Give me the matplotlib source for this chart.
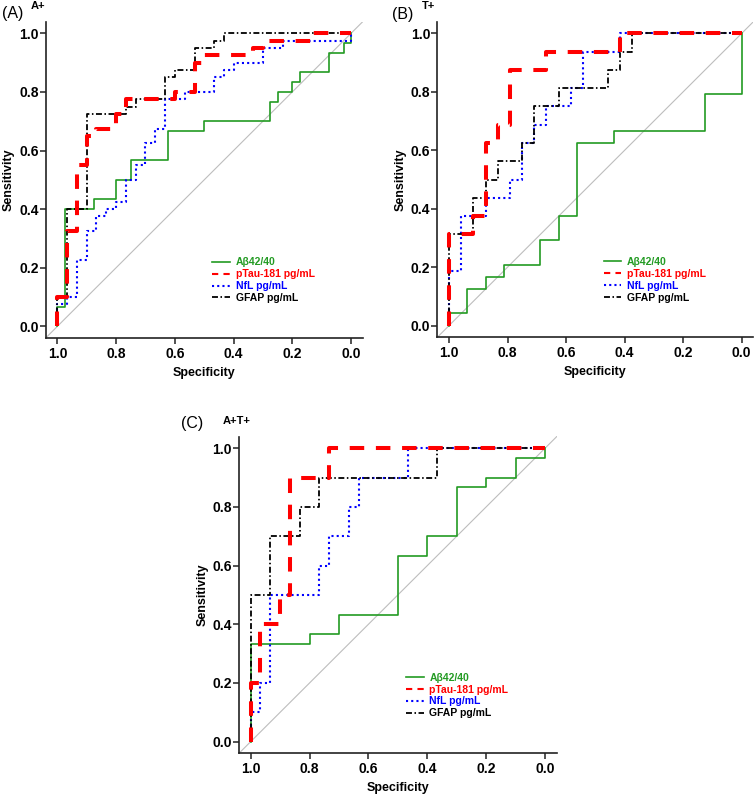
import matplotlib
matplotlib.use('Agg')
import matplotlib.pyplot as plt
from matplotlib.lines import Line2D

plt.rcParams['font.family'] = ['Liberation Sans', 'DejaVu Sans']

# ---------------- data ----------------
markers = ['Aβ42/40', 'pTau-181 pg/mL', 'NfL pg/mL', 'GFAP pg/mL']
tick_values = [0.0, 0.2, 0.4, 0.6, 0.8, 1.0]

# Panel A (A+)
A_abeta_spec = [1, 1, 0.975, 0.875, 0.8, 0.75, 0.625, 0.5, 0.275, 0.25, 0.2, 0.175, 0.075, 0.025, 0]
A_abeta_sens = [0, 0.067, 0.4, 0.433, 0.5, 0.567, 0.667, 0.7, 0.767, 0.8, 0.833, 0.867, 0.933, 0.967, 1]
A_ptau_spec = [1, 1, 0.967, 0.933, 0.9, 0.867, 0.8, 0.767, 0.6, 0.533, 0.5, 0.333, 0.3, 0.133, 0]
A_ptau_sens = [0, 0.1, 0.325, 0.55, 0.65, 0.675, 0.725, 0.775, 0.8, 0.9, 0.925, 0.95, 0.975, 1, 1]
A_nfl_spec = [1, 1, 0.967, 0.933, 0.9, 0.867, 0.833, 0.8, 0.767, 0.733, 0.7, 0.667, 0.633, 0.567,
              0.467, 0.433, 0.4, 0.3, 0.233, 0]
A_nfl_sens = [0, 0.075, 0.1, 0.225, 0.325, 0.375, 0.4, 0.425, 0.5, 0.55, 0.625, 0.675, 0.775, 0.8,
              0.85, 0.875, 0.9, 0.95, 0.975, 1]
A_gfap_spec = [1, 1, 0.967, 0.9, 0.767, 0.733, 0.633, 0.6, 0.533, 0.467, 0.433, 0]
A_gfap_sens = [0, 0.1, 0.4, 0.725, 0.75, 0.775, 0.85, 0.875, 0.95, 0.975, 1, 1]

# Panel B (T+)
B_abeta_spec = [1, 1, 0.9375, 0.875, 0.8125, 0.6875, 0.625, 0.5625, 0.4375, 0.125, 0]
B_abeta_sens = [0, 0.042, 0.125, 0.167, 0.208, 0.292, 0.375, 0.625, 0.667, 0.792, 1]
B_ptau_spec = [1, 1, 0.917, 0.875, 0.833, 0.792, 0.667, 0.417, 0]
B_ptau_sens = [0, 0.3125, 0.375, 0.625, 0.6875, 0.875, 0.9375, 1, 1]
B_nfl_spec = [1, 1, 0.958, 0.875, 0.792, 0.75, 0.708, 0.667, 0.583, 0.542, 0.417, 0]
B_nfl_sens = [0, 0.1875, 0.375, 0.4375, 0.5, 0.625, 0.6875, 0.75, 0.8125, 0.9375, 1, 1]
B_gfap_spec = [1, 1, 0.917, 0.875, 0.833, 0.75, 0.708, 0.625, 0.458, 0.417, 0.375, 0]
B_gfap_sens = [0, 0.3125, 0.4375, 0.5, 0.5625, 0.625, 0.75, 0.8125, 0.875, 0.9375, 1, 1]

# Panel C (A+T+)
C_abeta_spec = [1, 1, 0.8, 0.7, 0.5, 0.4, 0.3, 0.2, 0.1, 0]
C_abeta_sens = [0, 0.333, 0.367, 0.433, 0.633, 0.7, 0.867, 0.9, 0.967, 1]
C_ptau_spec = [1, 1, 0.967, 0.9, 0.867, 0.733, 0]
C_ptau_sens = [0, 0.2, 0.4, 0.5, 0.9, 1, 1]
C_nfl_spec = [1, 1, 0.967, 0.933, 0.767, 0.733, 0.667, 0.633, 0.467, 0]
C_nfl_sens = [0, 0.1, 0.2, 0.5, 0.6, 0.7, 0.8, 0.9, 1, 1]
C_gfap_spec = [1, 1, 0.933, 0.833, 0.767, 0.367, 0]
C_gfap_sens = [0, 0.5, 0.7, 0.8, 0.9, 1, 1]

panel_letters = ['(A)', '(B)', '(C)']
panel_groups = ['A+', 'T+', 'A+T+']

# ---------------- styles ----------------
colors = {'Aβ42/40': '#239b23', 'pTau-181 pg/mL': '#ff0000',
          'NfL pg/mL': '#0000ff', 'GFAP pg/mL': '#000000'}
plot_style = {
    'Aβ42/40': dict(lw=1.2, linestyle='-', zorder=3),
    'pTau-181 pg/mL': dict(lw=2.9, linestyle=(0, (3.6, 2.9)), dash_capstyle='butt', zorder=6),
    'NfL pg/mL': dict(lw=1.5, linestyle=(0, (1.0, 1.5)), dash_capstyle='butt', zorder=4),
    'GFAP pg/mL': dict(lw=1.3, linestyle=(0, (3.3, 1.4, 0.85, 1.4)), dash_capstyle='butt', zorder=5),
}
legend_style = {
    'Aβ42/40': dict(lw=1.2, linestyle='-'),
    'pTau-181 pg/mL': dict(lw=1.5, linestyle=(0, (3.0, 2.5)), dash_capstyle='butt'),
    'NfL pg/mL': dict(lw=1.5, linestyle=(0, (1.0, 1.5)), dash_capstyle='butt'),
    'GFAP pg/mL': dict(lw=1.3, linestyle=(0, (3.3, 1.4, 0.85, 1.4)), dash_capstyle='butt'),
}
draw_order = ['Aβ42/40', 'NfL pg/mL', 'GFAP pg/mL', 'pTau-181 pg/mL']

panels = [
    {'Aβ42/40': (A_abeta_spec, A_abeta_sens), 'pTau-181 pg/mL': (A_ptau_spec, A_ptau_sens),
     'NfL pg/mL': (A_nfl_spec, A_nfl_sens), 'GFAP pg/mL': (A_gfap_spec, A_gfap_sens)},
    {'Aβ42/40': (B_abeta_spec, B_abeta_sens), 'pTau-181 pg/mL': (B_ptau_spec, B_ptau_sens),
     'NfL pg/mL': (B_nfl_spec, B_nfl_sens), 'GFAP pg/mL': (B_gfap_spec, B_gfap_sens)},
    {'Aβ42/40': (C_abeta_spec, C_abeta_sens), 'pTau-181 pg/mL': (C_ptau_spec, C_ptau_sens),
     'NfL pg/mL': (C_nfl_spec, C_nfl_sens), 'GFAP pg/mL': (C_gfap_spec, C_gfap_sens)},
]

W, H = 755, 798
fig = plt.figure(figsize=(W / 100, H / 100), dpi=100)

# axes rectangles in pixels: left, top, right, bottom
rects_px = [(45.7, 21.7, 362.7, 338.0), (437.3, 21.7, 753.4, 337.3), (239.0, 436.5, 556.8, 753.3)]
# panel label positions in pixels: (letter x, letter y, group x, group y)
label_px = [(2, 13.5, 31, 6), (392, 14, 422, 6), (181, 423.5, 223, 421)]

for i, (l, t, r, b) in enumerate(rects_px):
    ax = fig.add_axes([l / W, 1 - b / H, (r - l) / W, (b - t) / H])
    ax.set_xlim(1.04, -0.04)
    ax.set_ylim(-0.04, 1.04)
    ax.axline((1, 0), (0, 1), color='#bdbdbd', lw=0.8, zorder=1)
    data = panels[i]
    for m in draw_order:
        spec, sens = data[m]
        ax.step(spec, sens, where='post', color=colors[m], **plot_style[m])
    for s in ['top', 'right']:
        ax.spines[s].set_visible(False)
    for s in ['left', 'bottom']:
        ax.spines[s].set_linewidth(1.2)
        ax.spines[s].set_color('#222222')
    ax.set_xticks(tick_values)
    ax.set_yticks(tick_values)
    ax.set_xticklabels([f'{v:.1f}' for v in tick_values], fontweight='bold')
    ax.set_yticklabels([f'{v:.1f}' for v in tick_values], fontweight='bold')
    ax.tick_params(axis='both', direction='out', length=4.5, width=1.1, labelsize=10,
                   color='#222222')
    ax.tick_params(axis='x', pad=1.8)
    ax.tick_params(axis='y', pad=0.5)
    ax.set_xlabel('Specificity', fontsize=9, fontweight='bold')
    ax.set_ylabel('Sensitivity', fontsize=9, fontweight='bold')
    ax.xaxis.set_label_coords(0.5, -0.092)
    ax.yaxis.set_label_coords(-0.097, 0.5)

    handles = [Line2D([], [], color=colors[m], **legend_style[m]) for m in markers]
    ax.legend(handles, markers, loc='upper left', bbox_to_anchor=(0.472, 0.235),
              bbox_transform=ax.transData, frameon=False,
              prop={'weight': 'bold', 'size': 7.5}, handlelength=1.69,
              handletextpad=0.55, labelspacing=0.18, borderpad=0, borderaxespad=0,
              labelcolor='linecolor')

    lx, ly, gx, gy = label_px[i]
    fig.text(lx / W, 1 - ly / H, panel_letters[i], fontsize=11.5, ha='left', va='center')
    fig.text(gx / W, 1 - gy / H, panel_groups[i], fontsize=8, fontweight='bold',
             ha='left', va='center')

fig.savefig('out.png', dpi=100)
